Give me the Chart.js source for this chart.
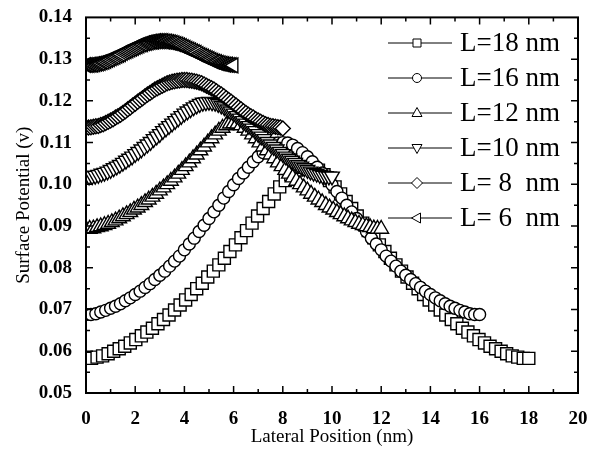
<!DOCTYPE html>
<html>
<head>
<meta charset="utf-8">
<script src="https://cdn.jsdelivr.net/npm/chart.js@4.4.1/dist/chart.umd.min.js"></script>
<style>
  html, body { margin: 0; padding: 0; background: #fff; }
</style>
</head>
<body>
<canvas id="potentialChart" width="597" height="449"></canvas>
<script>
"use strict";

// channel lengths (nm) and legend text
var lengths = [18, 16, 12, 10, 8, 6];
var seriesLabels = ['L=18 nm', 'L=16 nm', 'L=12 nm', 'L=10 nm', 'L= 8  nm', 'L= 6  nm'];
var xTicks = [0, 2, 4, 6, 8, 10, 12, 14, 16, 18, 20];
var yTicks = [0.05, 0.06, 0.07, 0.08, 0.09, 0.10, 0.11, 0.12, 0.13, 0.14];

// surface potential (v), sampled evenly from 0 to L
var pot18 = [0.0583, 0.0583, 0.0586, 0.0589, 0.0594, 0.0600, 0.0606, 0.0612, 0.0620, 0.0628,
  0.0637, 0.0646, 0.0655, 0.0666, 0.0676, 0.0687, 0.0699, 0.0711, 0.0723, 0.0736,
  0.0750, 0.0763, 0.0778, 0.0792, 0.0807, 0.0823, 0.0839, 0.0855, 0.0872, 0.0889,
  0.0907, 0.0924, 0.0942, 0.0959, 0.0977, 0.0994, 0.1009, 0.1023, 0.1034, 0.1041,
  0.1043,
  0.1041, 0.1034, 0.1023, 0.1009, 0.0994, 0.0977, 0.0959, 0.0942, 0.0924, 0.0907,
  0.0889, 0.0872, 0.0855, 0.0839, 0.0823, 0.0807, 0.0792, 0.0778, 0.0763, 0.0750,
  0.0736, 0.0723, 0.0711, 0.0699, 0.0687, 0.0676, 0.0666, 0.0655, 0.0646, 0.0637,
  0.0628, 0.0620, 0.0612, 0.0606, 0.0600, 0.0594, 0.0589, 0.0586, 0.0583, 0.0583];

var pot16 = [0.0688, 0.0688, 0.0690, 0.0694, 0.0698, 0.0703, 0.0708, 0.0714, 0.0721, 0.0728,
  0.0736, 0.0744, 0.0753, 0.0762, 0.0772, 0.0782, 0.0792, 0.0804, 0.0816, 0.0828,
  0.0843, 0.0857, 0.0871, 0.0887, 0.0902, 0.0918, 0.0934, 0.0950, 0.0967, 0.0983,
  0.0999, 0.1014, 0.1027, 0.1041, 0.1054, 0.1066, 0.1076, 0.1086, 0.1094, 0.1099,
  0.1100,
  0.1099, 0.1094, 0.1086, 0.1076, 0.1066, 0.1054, 0.1041, 0.1027, 0.1014, 0.0999,
  0.0983, 0.0967, 0.0950, 0.0934, 0.0918, 0.0902, 0.0887, 0.0871, 0.0857, 0.0843,
  0.0828, 0.0816, 0.0804, 0.0792, 0.0782, 0.0772, 0.0762, 0.0753, 0.0744, 0.0736,
  0.0728, 0.0721, 0.0714, 0.0708, 0.0703, 0.0698, 0.0694, 0.0690, 0.0688, 0.0688];

var pot12 = [0.0893, 0.0893, 0.0894, 0.0897, 0.0899, 0.0902, 0.0905, 0.0909, 0.0913, 0.0918,
  0.0923, 0.0928, 0.0933, 0.0939, 0.0944, 0.0950, 0.0957, 0.0963, 0.0970, 0.0977,
  0.0985, 0.0992, 0.1000, 0.1008, 0.1016, 0.1025, 0.1034, 0.1043, 0.1052, 0.1062,
  0.1071, 0.1081, 0.1090, 0.1100, 0.1110, 0.1119, 0.1128, 0.1135, 0.1141, 0.1145,
  0.1146,
  0.1145, 0.1141, 0.1135, 0.1128, 0.1119, 0.1110, 0.1100, 0.1090, 0.1081, 0.1071,
  0.1062, 0.1052, 0.1043, 0.1034, 0.1025, 0.1016, 0.1008, 0.1000, 0.0992, 0.0985,
  0.0977, 0.0970, 0.0963, 0.0957, 0.0950, 0.0944, 0.0939, 0.0933, 0.0928, 0.0923,
  0.0918, 0.0913, 0.0909, 0.0905, 0.0902, 0.0899, 0.0897, 0.0894, 0.0893, 0.0893];

var pot10 = [0.1019, 0.1019, 0.1020, 0.1021, 0.1023, 0.1026, 0.1028, 0.1031, 0.1035, 0.1039,
  0.1043, 0.1047, 0.1052, 0.1057, 0.1062, 0.1067, 0.1073, 0.1078, 0.1084, 0.1090,
  0.1096, 0.1102, 0.1109, 0.1115, 0.1121, 0.1128, 0.1134, 0.1140, 0.1146, 0.1152,
  0.1158, 0.1164, 0.1170, 0.1175, 0.1180, 0.1185, 0.1189, 0.1193, 0.1196, 0.1197,
  0.1198,
  0.1197, 0.1196, 0.1193, 0.1189, 0.1185, 0.1180, 0.1175, 0.1170, 0.1164, 0.1158,
  0.1152, 0.1146, 0.1140, 0.1134, 0.1128, 0.1121, 0.1115, 0.1109, 0.1102, 0.1096,
  0.1090, 0.1084, 0.1078, 0.1073, 0.1067, 0.1062, 0.1057, 0.1052, 0.1047, 0.1043,
  0.1039, 0.1035, 0.1031, 0.1028, 0.1026, 0.1023, 0.1021, 0.1020, 0.1019, 0.1019];

var pot8 = [0.1136, 0.1136, 0.1137, 0.1138, 0.1139, 0.1140, 0.1142, 0.1144, 0.1147, 0.1150,
  0.1153, 0.1156, 0.1160, 0.1163, 0.1167, 0.1171, 0.1175, 0.1180, 0.1184, 0.1189,
  0.1193, 0.1198, 0.1202, 0.1206, 0.1211, 0.1215, 0.1219, 0.1223, 0.1227, 0.1230,
  0.1233, 0.1236, 0.1239, 0.1242, 0.1244, 0.1246, 0.1247, 0.1248, 0.1249, 0.1250,
  0.1250,
  0.1250, 0.1249, 0.1248, 0.1247, 0.1246, 0.1244, 0.1242, 0.1239, 0.1236, 0.1233,
  0.1230, 0.1227, 0.1223, 0.1219, 0.1215, 0.1211, 0.1206, 0.1202, 0.1198, 0.1193,
  0.1189, 0.1184, 0.1180, 0.1175, 0.1171, 0.1167, 0.1163, 0.1160, 0.1156, 0.1153,
  0.1150, 0.1147, 0.1144, 0.1142, 0.1140, 0.1139, 0.1138, 0.1137, 0.1136, 0.1134];

var pot6 = [0.1286, 0.1286, 0.1286, 0.1287, 0.1287, 0.1288, 0.1289, 0.1290, 0.1291, 0.1293,
  0.1294, 0.1296, 0.1298, 0.1300, 0.1302, 0.1304, 0.1306, 0.1308, 0.1310, 0.1312,
  0.1315, 0.1317, 0.1319, 0.1321, 0.1323, 0.1325, 0.1327, 0.1329, 0.1331, 0.1333,
  0.1335, 0.1336, 0.1338, 0.1339, 0.1340, 0.1341, 0.1342, 0.1342, 0.1343, 0.1343,
  0.1343,
  0.1343, 0.1343, 0.1342, 0.1342, 0.1341, 0.1340, 0.1339, 0.1338, 0.1336, 0.1335,
  0.1333, 0.1331, 0.1329, 0.1327, 0.1325, 0.1323, 0.1321, 0.1319, 0.1317, 0.1315,
  0.1312, 0.1310, 0.1308, 0.1306, 0.1304, 0.1302, 0.1300, 0.1298, 0.1296, 0.1294,
  0.1293, 0.1291, 0.1290, 0.1289, 0.1288, 0.1287, 0.1287, 0.1286, 0.1286, 0.1285];

var potentials = [pot18, pot16, pot12, pot10, pot8, pot6];

var markerStyles = ['rect', 'circle', 'triangle', 'triangle', 'rectRot', 'triangle'];
var markerRotation = [0, 0, 0, 180, 0, 270];
var markerRadius = [8.5, 6, 8.5, 8.5, 7.5, 8.5];

var serif = '"Liberation Serif", "Times New Roman", serif';

function toPoints(values, L) {
  var step = L / (values.length - 1);
  return values.map(function (v, i) { return { x: i * step, y: v }; });
}

var datasets = lengths.map(function (L, i) {
  return {
    label: seriesLabels[i],
    data: toPoints(potentials[i], L),
    showLine: true,
    borderColor: '#000',
    borderWidth: 1,
    pointStyle: markerStyles[i],
    rotation: markerRotation[i],
    pointRadius: markerRadius[i],
    pointBorderWidth: 1.4,
    pointBorderColor: '#000',
    pointBackgroundColor: '#fff',
    clip: 0,
    order: lengths.length - i
  };
});

// small symbol for the hand-drawn legend
function legendMark(ctx, k, x, y) {
  ctx.beginPath();
  if (k == 0) {
    ctx.rect(x - 4, y - 4, 8, 8);
  } else if (k == 1) {
    ctx.arc(x, y, 4.5, 0, Math.PI * 2);
  } else if (k == 2) {
    ctx.moveTo(x, y - 5.5); ctx.lineTo(x + 5, y + 3.5); ctx.lineTo(x - 5, y + 3.5); ctx.closePath();
  } else if (k == 3) {
    ctx.moveTo(x, y + 5.5); ctx.lineTo(x + 5, y - 3.5); ctx.lineTo(x - 5, y - 3.5); ctx.closePath();
  } else if (k == 4) {
    ctx.moveTo(x, y - 5.5); ctx.lineTo(x + 5.5, y); ctx.lineTo(x, y + 5.5); ctx.lineTo(x - 5.5, y); ctx.closePath();
  } else {
    ctx.moveTo(x - 5.5, y); ctx.lineTo(x + 3.5, y - 5); ctx.lineTo(x + 3.5, y + 5); ctx.closePath();
  }
  ctx.fillStyle = '#fff';
  ctx.fill();
  ctx.stroke();
}

var framePlugin = {
  id: 'frame',
  afterDatasetsDraw: function (chart) {
    var ctx = chart.ctx, a = chart.chartArea;
    var xs = chart.scales.x, ys = chart.scales.y;
    ctx.save();
    ctx.strokeStyle = '#000';
    ctx.lineWidth = 2;
    ctx.strokeRect(a.left, a.top, a.right - a.left, a.bottom - a.top);

    // inward ticks on all four sides
    ctx.lineWidth = 1.5;
    ctx.beginPath();
    for (var v = 1; v < 20; v++) {
      var px = xs.getPixelForValue(v);
      var len = v % 2 ? 4 : 7;
      ctx.moveTo(px, a.bottom); ctx.lineTo(px, a.bottom - len);
      ctx.moveTo(px, a.top); ctx.lineTo(px, a.top + len);
    }
    for (var k = 1; k < 18; k++) {
      var py = ys.getPixelForValue(0.05 + k * 0.005);
      var ylen = k % 2 ? 4 : 7;
      ctx.moveTo(a.left, py); ctx.lineTo(a.left + ylen, py);
      ctx.moveTo(a.right, py); ctx.lineTo(a.right - ylen, py);
    }
    ctx.stroke();

    // legend
    ctx.lineWidth = 1;
    ctx.font = '27px ' + serif;
    ctx.textBaseline = 'middle';
    for (var i = 0; i < seriesLabels.length; i++) {
      var ry = 43 + i * 35;
      ctx.beginPath();
      ctx.moveTo(388, ry); ctx.lineTo(452, ry);
      ctx.stroke();
      legendMark(ctx, i, 417, ry);
      ctx.fillStyle = '#000';
      ctx.fillText(seriesLabels[i], 460, ry + 1);
    }
    ctx.restore();
  }
};

new Chart(document.getElementById('potentialChart').getContext('2d'), {
  type: 'scatter',
  data: { datasets: datasets },
  options: {
    responsive: false,
    animation: false,
    layout: { padding: { left: 0, right: 19, top: 15, bottom: 0 } },
    plugins: { legend: { display: false }, tooltip: { enabled: false } },
    scales: {
      x: {
        type: 'linear',
        min: 0,
        max: 20,
        afterBuildTicks: function (s) { s.ticks = xTicks.map(function (v) { return { value: v }; }); },
        afterFit: function (s) { s.height = 56; },
        grid: { display: false },
        border: { display: false },
        ticks: { color: '#000', padding: 7, font: { family: serif, size: 19, weight: 'bold' } },
        title: {
          display: true,
          text: 'Lateral Position (nm)',
          color: '#000',
          font: { family: serif, size: 19 },
          padding: { top: 0, bottom: 1 }
        }
      },
      y: {
        type: 'linear',
        min: 0.05,
        max: 0.14,
        afterBuildTicks: function (s) { s.ticks = yTicks.map(function (v) { return { value: v }; }); },
        afterFit: function (s) { s.width = 86; },
        grid: { display: false },
        border: { display: false },
        ticks: {
          color: '#000',
          padding: 6,
          font: { family: serif, size: 19, weight: 'bold' },
          callback: function (v) { return v.toFixed(2); }
        },
        title: {
          display: true,
          text: 'Surface Potential (v)',
          color: '#000',
          font: { family: serif, size: 19 },
          padding: { top: 13, bottom: 0 }
        }
      }
    }
  },
  plugins: [framePlugin]
});
</script>
</body>
</html>
